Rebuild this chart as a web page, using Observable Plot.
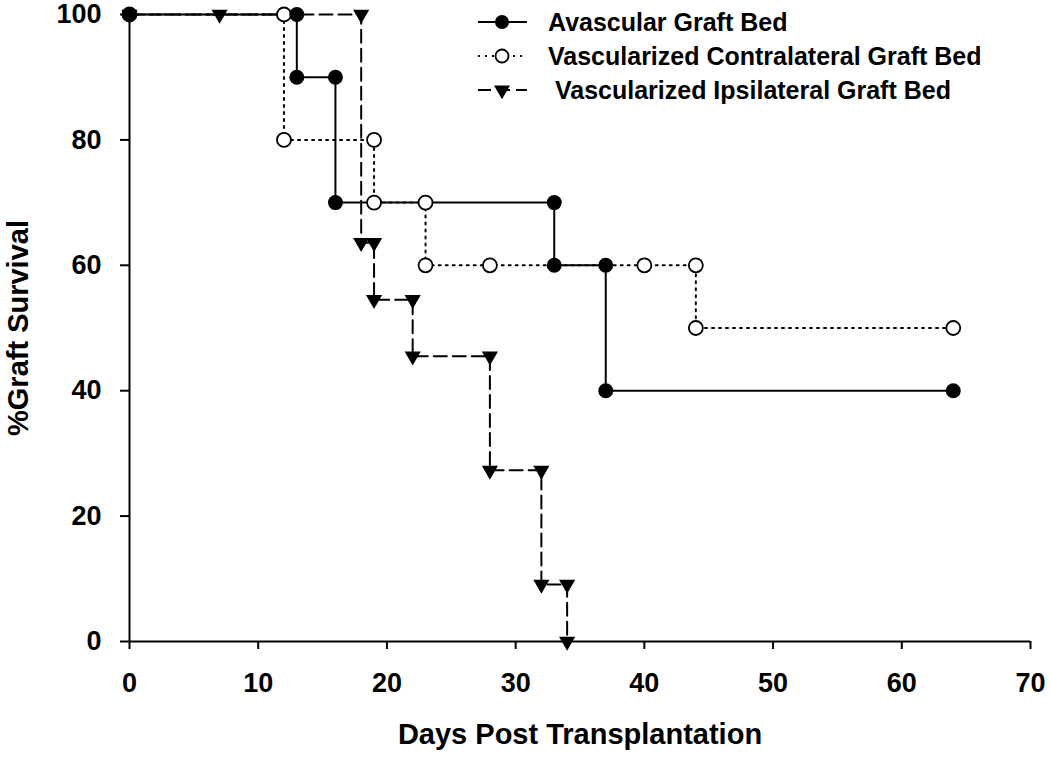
<!DOCTYPE html>
<html>
<head>
<meta charset="utf-8">
<script src="https://cdn.jsdelivr.net/npm/d3@7"></script>
<script src="https://cdn.jsdelivr.net/npm/@observablehq/plot@0.6"></script>
<style>
  html, body { margin: 0; padding: 0; background: #fff; }
  #wrap { position: relative; width: 1050px; height: 763px; }
  #legend { position: absolute; left: 470px; top: 0px; }
</style>
</head>
<body>
<div id="wrap"></div>
<script>
// ---- data ----
const seriesNames = ["Avascular Graft Bed", "Vascularized Contralateral Graft Bed", " Vascularized Ipsilateral Graft Bed"];

const avascularDays     = [0, 13, 13, 16, 16, 33, 33, 37, 37, 64];
const avascularSurvival = [100, 100, 90, 90, 70, 70, 60, 60, 40, 40];

const contraDays     = [0, 12, 12, 19, 19, 23, 23, 28, 40, 44, 44, 64];
const contraSurvival = [100, 100, 80, 80, 70, 70, 60, 60, 60, 60, 50, 50];

const ipsiDays     = [0, 7, 18, 18, 19, 19, 22, 22, 28, 28, 32, 32, 34, 34];
const ipsiSurvival = [100, 100, 100, 63.6, 63.6, 54.5, 54.5, 45.5, 45.5, 27.3, 27.3, 9.1, 9.1, 0];

const xTicks = [0, 10, 20, 30, 40, 50, 60, 70];
const yTicks = [0, 20, 40, 60, 80, 100];
const xTitle = "Days Post Transplantation";
const yTitle = "%Graft Survival";

// ---- build tables ----
const toRows = (days, surv) => days.map((d, i) => ({day: d, surv: surv[i]}));
const avas = toRows(avascularDays, avascularSurvival);
const contra = toRows(contraDays, contraSurvival);
const ipsi = toRows(ipsiDays, ipsiSurvival);

const font = "'Liberation Sans', Arial, Helvetica, sans-serif";

const chart = Plot.plot({
  width: 1050,
  height: 763,
  marginLeft: 129,
  marginRight: 20,
  marginTop: 14,
  marginBottom: 122,
  x: {domain: [0, 70]},
  y: {domain: [0, 100]},
  style: {fontFamily: font, fontWeight: "bold", fontSize: "27px", color: "#000", background: "#fff"},
  marks: [
    Plot.axisX({ticks: xTicks, tickSize: 8, tickPadding: 23, label: null, fontSize: 27, fontWeight: "bold", strokeWidth: 2}),
    Plot.axisY({ticks: yTicks, tickSize: 9, tickPadding: 19, label: null, fontSize: 27, fontWeight: "bold", strokeWidth: 2}),
    Plot.ruleY([0], {x1: 0, x2: 70, stroke: "#000", strokeWidth: 2}),
    Plot.ruleX([0], {y1: 0, y2: 100, stroke: "#000", strokeWidth: 2}),
    // lines
    Plot.line(ipsi, {x: "day", y: "surv", stroke: "#000", strokeWidth: 2, strokeDasharray: "13,6"}),
    Plot.line(contra, {x: "day", y: "surv", stroke: "#000", strokeWidth: 2, strokeDasharray: "2,5"}),
    Plot.line(avas, {x: "day", y: "surv", stroke: "#000", strokeWidth: 2}),
    // markers
    Plot.dot(ipsi, {x: "day", y: "surv", symbol: "triangle", r: 6, fill: "#000", stroke: "none", rotate: 180}),
    Plot.dot(contra, {x: "day", y: "surv", symbol: "circle", r: 7, fill: "#fff", stroke: "#000", strokeWidth: 1.8}),
    Plot.dot(avas, {x: "day", y: "surv", symbol: "circle", r: 7.5, fill: "#000", stroke: "none"}),
    // axis titles
    Plot.text([xTitle], {frameAnchor: "bottom", textAnchor: "middle", lineAnchor: "top", dy: 82, fontSize: 29, fontWeight: "bold", fill: "#000"}),
    Plot.text([yTitle], {frameAnchor: "left", textAnchor: "middle", lineAnchor: "top", rotate: -90, dx: -122, fontSize: 29, fontWeight: "bold", fill: "#000"})
  ]
});

const wrap = document.getElementById("wrap");
wrap.appendChild(chart);

// ---- legend ----
const legendStyles = [
  {dash: null, marker: "filled"},
  {dash: "2,5", marker: "open"},
  {dash: "13,6", marker: "tri"}
];
const rowY = [22, 56, 90];
const lg = d3.create("svg").attr("id", "legend").attr("width", 580).attr("height", 110)
  .style("font-family", font).style("font-weight", "bold").style("font-size", "25px");
seriesNames.forEach((name, i) => {
  const g = lg.append("g").attr("transform", `translate(0,${rowY[i]})`);
  const st = legendStyles[i];
  g.append("line").attr("x1", 8).attr("x2", 57).attr("y1", 0).attr("y2", 0)
    .attr("stroke", "#000").attr("stroke-width", 2)
    .attr("stroke-dasharray", st.dash);
  if (st.marker === "filled") {
    g.append("circle").attr("cx", 32).attr("cy", 0).attr("r", 7).attr("fill", "#000");
  } else if (st.marker === "open") {
    g.append("circle").attr("cx", 32).attr("cy", 0).attr("r", 6.5).attr("fill", "#fff").attr("stroke", "#000").attr("stroke-width", 1.8);
  } else {
    g.append("path").attr("transform", "translate(32,0) rotate(180)")
      .attr("d", d3.symbol(d3.symbolTriangle, 110)()).attr("fill", "#000");
  }
  g.append("text").attr("x", 78).attr("y", 0).attr("dy", "0.36em")
    .attr("xml:space", "preserve").style("white-space", "pre")
    .text(name);
});
wrap.appendChild(lg.node());
</script>
</body>
</html>
